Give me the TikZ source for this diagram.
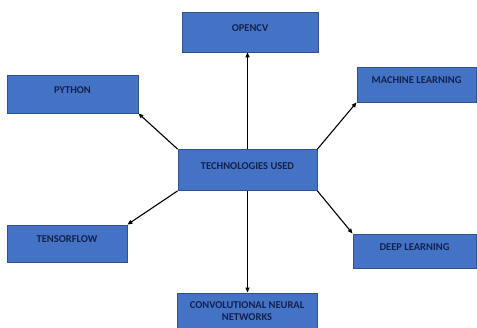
\documentclass[tikz,border=0pt]{standalone}
\usepackage{fontspec}
\setmainfont{Carlito}
\usepackage{tikz}
\usetikzlibrary{arrows.meta,positioning}
\definecolor{BoxFill}{HTML}{4472C4}
\definecolor{BoxEdge}{HTML}{2F528F}
\definecolor{LabelInk}{HTML}{14214D}

\begin{document}
\begin{tikzpicture}[x=1pt,y=-1pt,
  techbox/.style={draw=BoxEdge,fill=BoxFill,line width=0.8pt,inner sep=2pt,
    font=\fontsize{10.5}{12.5}\selectfont\bfseries,text=LabelInk,align=center},
  raised/.style={text height=7pt,text depth=8pt},
  link/.style={-{Triangle[length=5pt,width=4pt]},line width=1.1pt,black}]
  \useasboundingbox (0,0) rectangle (477,328);

  % centre
  \node[techbox,raised,minimum width=139pt,minimum height=41pt] (tech) at (247.5,170) {TECHNOLOGIES USED};

  % around it
  \node[techbox,raised,minimum width=136pt,minimum height=40pt] (opencv) at (250,32) {OPENCV};
  \node[techbox,raised,minimum width=131pt,minimum height=38pt] (python) at (72.5,94) {PYTHON};
  \node[techbox,raised,minimum width=119pt,minimum height=35pt] (ml) at (416.5,84.5) {MACHINE LEARNING};
  \node[techbox,raised,minimum width=120pt,minimum height=37pt] (tf) at (67,243.5) {TENSORFLOW};
  \node[techbox,raised,minimum width=123pt,minimum height=34pt] (dl) at (414.5,251) {DEEP LEARNING};
  \node[techbox,minimum width=140pt,minimum height=36pt] (cnn) at (247,311) {CONVOLUTIONAL NEURAL\\NETWORKS};

  \draw[link] (tech.north) -- (opencv.south -| tech.north);
  \draw[link] (tech.north west) -- (python.south east);
  \draw[link] (tech.north east) -- (ml.south west);
  \draw[link] (tech.south west) -- (tf.north east);
  \draw[link] (tech.south east) -- (dl.north west);
  \draw[link] (tech.south) -- (cnn.north -| tech.south);
\end{tikzpicture}
\end{document}
